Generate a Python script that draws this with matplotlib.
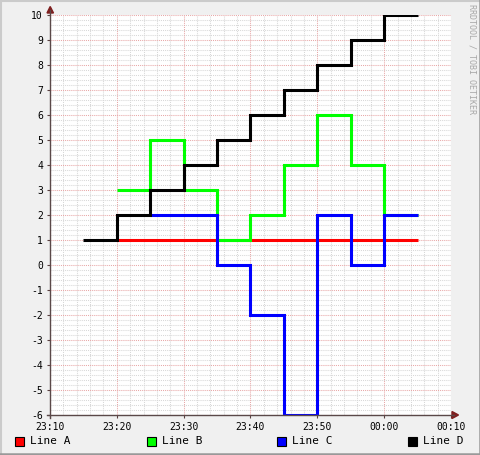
import matplotlib
matplotlib.use("Agg")
import matplotlib.pyplot as plt
from matplotlib.patches import Polygon, Rectangle
from matplotlib.lines import Line2D
import numpy as np

# ---- data ----
step_minutes = 5
line_a_start = "23:20"
line_a_values = [1, 1, 1, 1, 1, 1, 1, 1, 1]
line_b_start = "23:20"
line_b_values = [3, 5, 3, 1, 2, 4, 6, 4, 2]
line_c_start = "23:25"
line_c_values = [2, 2, 0, -2, -6, 2, 0, 2]
line_d_start = "23:15"
line_d_values = [1, 2, 3, 4, 5, 6, 7, 8, 9, 10]
series_names = ["Line A", "Line B", "Line C", "Line D"]
series_colors = ["#FF0000", "#00FF00", "#0000FF", "#000000"]
x_tick_labels = ["23:10", "23:20", "23:30", "23:40", "23:50", "00:00", "00:10"]
y_ticks = list(range(-6, 11))

def to_min(s):
    h, m = map(int, s.split(":"))
    t = h * 60 + m - (23 * 60 + 10)
    if t < 0:
        t += 24 * 60
    return t

W, H = 481, 455
fig = plt.figure(figsize=(W / 100, H / 100), dpi=100)
fig.patch.set_facecolor("#F0F0F0")

px_l, px_r, px_t, px_b = 50, 451, 15, 415
ax = fig.add_axes([px_l / W, 1 - px_b / H, (px_r - px_l) / W, (px_b - px_t) / H])
ax.set_facecolor("white")
ax.set_xlim(0, 60)
ax.set_ylim(-6, 10)

# grids
for x in np.arange(0, 61, 2):
    if x % 10 != 0:
        ax.axvline(x, color="#D8D8D8", lw=0.75, ls=(0, (1, 1)), zorder=1)
for y in np.arange(-6, 10.01, 0.2):
    if abs(y - round(y)) > 1e-6:
        ax.axhline(y, color="#D8D8D8", lw=0.75, ls=(0, (1, 1)), zorder=1)
for x in range(0, 61, 10):
    ax.axvline(x, color="#E8A8A8", lw=0.75, ls=(0, (1, 1)), zorder=1.5)
for y in y_ticks:
    ax.axhline(y, color="#E8A8A8", lw=0.75, ls=(0, (1, 1)), zorder=1.5)

starts = [line_a_start, line_b_start, line_c_start, line_d_start]
vals = [line_a_values, line_b_values, line_c_values, line_d_values]
for st, v, c in zip(starts, vals, series_colors):
    s = to_min(st)
    edges = [s + i * step_minutes for i in range(len(v) + 1)]
    ax.stairs(v, edges, baseline=None, color=c, lw=2.2, zorder=3,
              joinstyle="miter")

for sp in ax.spines.values():
    sp.set_visible(False)

ax.set_xticks(range(0, 61, 10))
ax.set_xticklabels(x_tick_labels)
ax.set_yticks(y_ticks)
ax.set_yticklabels([str(y) for y in y_ticks])
ax.tick_params(axis="both", length=2, width=0.8, color="#5A4040",
               labelsize=7, pad=3)
for lab in ax.get_xticklabels() + ax.get_yticklabels():
    lab.set_fontfamily("DejaVu Sans Mono")

def fx(p):
    return p / W

def fy(p):
    return 1 - p / H

# axis lines and arrows
axis_col = "#5A4848"
fig.add_artist(Line2D([fx(px_l), fx(px_l)], [fy(px_b + 3), fy(10)], color=axis_col, lw=1.0))
fig.add_artist(Line2D([fx(px_l - 3), fx(454)], [fy(px_b), fy(px_b)], color=axis_col, lw=1.0))
fig.add_artist(Polygon([[fx(47), fy(13)], [fx(53.5), fy(13)], [fx(50.2), fy(6.5)]],
                       closed=True, color="#7F1F1F", transform=fig.transFigure))
fig.add_artist(Polygon([[fx(452), fy(411.5)], [fx(452), fy(418.5)], [fx(458.5), fy(415)]],
                       closed=True, color="#7F1F1F", transform=fig.transFigure))

# legend
leg_x = [15, 147, 277, 408]
for x0, name, c in zip(leg_x, series_names, series_colors):
    fig.add_artist(Rectangle((fx(x0), fy(446)), 9 / W, 9 / H, facecolor=c,
                             edgecolor="black", lw=0.8, transform=fig.transFigure))
    fig.text(fx(x0 + 15), fy(441.5), name, fontsize=8, family="DejaVu Sans Mono",
             va="center", ha="left")

# watermark
fig.text(fx(472), fy(4), "RRDTOOL / TOBI OETIKER", rotation=270, fontsize=6,
         family="DejaVu Sans Mono", color="#A8A8A8", va="top", ha="center")

# 3D border
fig.add_artist(Line2D([0, 1], [fy(0.5), fy(0.5)], color="#CBCBCB", lw=1.5))
fig.add_artist(Line2D([fx(0.5), fx(0.5)], [0, 1], color="#CBCBCB", lw=1.5))
fig.add_artist(Line2D([0, 1], [fy(454), fy(454)], color="#999999", lw=1.8))
fig.add_artist(Line2D([fx(480), fx(480)], [0, 1], color="#999999", lw=1.8))

fig.savefig("out.png", dpi=100, facecolor=fig.get_facecolor())
